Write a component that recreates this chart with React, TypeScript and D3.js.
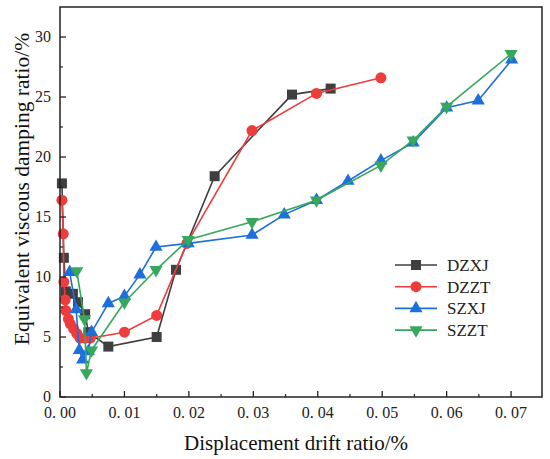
import * as d3 from "d3";
import { useEffect, useRef } from "react";

const dzxjX = [0.0003, 0.0006, 0.0009, 0.002, 0.0028, 0.0039, 0.0044, 0.0075, 0.015, 0.018, 0.024, 0.036, 0.042];
const dzxjY = [17.8, 11.6, 8.8, 8.6, 7.9, 6.9, 5.4, 4.2, 5.0, 10.6, 18.4, 25.2, 25.7];

const dzztX = [0.0003, 0.0005, 0.0006, 0.0008, 0.0009, 0.0013, 0.0016, 0.0021, 0.0026, 0.0031, 0.0039, 0.0047, 0.01, 0.015, 0.0197, 0.0298, 0.0398, 0.0498];
const dzztY = [16.4, 13.6, 9.6, 8.1, 7.2, 6.5, 6.1, 5.7, 5.3, 4.9, 4.9, 4.9, 5.4, 6.8, 12.8, 22.2, 25.3, 26.6];

const szxjX = [0.0015, 0.0025, 0.003, 0.0035, 0.0044, 0.0049, 0.0075, 0.01, 0.0124, 0.0149, 0.0199, 0.0298, 0.0348, 0.0398, 0.0447, 0.0498, 0.0548, 0.06, 0.0649, 0.0701];
const szxjY = [10.4, 7.3, 3.9, 3.1, 3.8, 5.4, 7.8, 8.4, 10.2, 12.5, 12.8, 13.5, 15.2, 16.4, 18.0, 19.7, 21.2, 24.1, 24.7, 28.1];

const szztX = [0.0026, 0.0038, 0.0041, 0.0049, 0.01, 0.0149, 0.0199, 0.0298, 0.0398, 0.0498, 0.0548, 0.06, 0.07];
const szztY = [10.5, 6.5, 2.0, 3.9, 7.9, 10.6, 13.1, 14.6, 16.4, 19.3, 21.4, 24.2, 28.6];

const seriesNames = ["DZXJ", "DZZT", "SZXJ", "SZZT"];
const seriesColors = ["#3f3f3f", "#ee3b3b", "#1d6fdc", "#36a85c"];
const seriesShapes = ["square", "circle", "triangle", "triangleDown"];

const xTicks = [0, 0.01, 0.02, 0.03, 0.04, 0.05, 0.06, 0.07];
const xTickLabels = ["0. 00", "0. 01", "0. 02", "0. 03", "0. 04", "0. 05", "0. 06", "0. 07"];
const yTicks = [0, 5, 10, 15, 20, 25, 30];

const W = 550;
const H = 459;
const margin = { top: 7, right: 8, bottom: 62, left: 60 };
const font = "'Liberation Serif', 'Times New Roman', serif";

function symbolFor(shape: string) {
  if (shape === "square") return d3.symbol(d3.symbolSquare, 100)();
  if (shape === "circle") return d3.symbol(d3.symbolCircle, 95)();
  return d3.symbol(d3.symbolTriangle, 75)();
}

export default function App() {
  const ref = useRef<SVGSVGElement>(null);

  useEffect(() => {
    document.body.style.margin = "0";
    if (!ref.current) return;
    const svg = d3.select(ref.current);
    svg.selectAll("*").remove();

    const x = d3.scaleLinear().domain([0, 0.0748]).range([margin.left, W - margin.right]);
    const y = d3.scaleLinear().domain([0, 32.5]).range([H - margin.bottom, margin.top]);

    const data = [
      { xs: dzxjX, ys: dzxjY },
      { xs: dzztX, ys: dzztY },
      { xs: szxjX, ys: szxjY },
      { xs: szztX, ys: szztY },
    ];

    const line = d3
      .line<[number, number]>()
      .x(d => x(d[0]))
      .y(d => y(d[1]));

    svg.append("rect").attr("width", W).attr("height", H).attr("fill", "#fff");

    const plot = svg.append("g");
    data.forEach((s, i) => {
      const pts = s.xs.map((v, j) => [v, s.ys[j]] as [number, number]);
      plot
        .append("path")
        .attr("d", line(pts)!)
        .attr("fill", "none")
        .attr("stroke", seriesColors[i])
        .attr("stroke-width", 1.6);
      const shape = seriesShapes[i];
      plot
        .selectAll(`.m${i}`)
        .data(pts)
        .join("path")
        .attr("d", symbolFor(shape))
        .attr("transform", d => `translate(${x(d[0])},${y(d[1])})${shape === "triangleDown" ? " rotate(180)" : ""}`)
        .attr("fill", seriesColors[i]);
    });

    // frame
    svg
      .append("rect")
      .attr("x", margin.left)
      .attr("y", margin.top)
      .attr("width", W - margin.left - margin.right)
      .attr("height", H - margin.top - margin.bottom)
      .attr("fill", "none")
      .attr("stroke", "#222")
      .attr("stroke-width", 1.5);

    // x ticks
    const y0 = y(0);
    const xMinor = d3.range(0.005, 0.0748, 0.01);
    svg
      .selectAll(".xt")
      .data(xTicks)
      .join("line")
      .attr("x1", d => x(d))
      .attr("x2", d => x(d))
      .attr("y1", y0)
      .attr("y2", y0 - 6)
      .attr("stroke", "#222")
      .attr("stroke-width", 1.3);
    svg
      .selectAll(".xm")
      .data(xMinor)
      .join("line")
      .attr("x1", d => x(d))
      .attr("x2", d => x(d))
      .attr("y1", y0)
      .attr("y2", y0 - 3)
      .attr("stroke", "#222")
      .attr("stroke-width", 1.2);
    svg
      .selectAll(".xl")
      .data(xTicks)
      .join("text")
      .attr("x", d => x(d))
      .attr("y", y0 + 21)
      .attr("text-anchor", "middle")
      .attr("font-family", font)
      .attr("font-size", 16)
      .attr("fill", "#222")
      .text((_, i) => xTickLabels[i]);

    // y ticks
    const x0 = x(0);
    const yMinor = d3.range(2.5, 32.5, 5);
    svg
      .selectAll(".yt")
      .data(yTicks)
      .join("line")
      .attr("x1", x0)
      .attr("x2", x0 + 6)
      .attr("y1", d => y(d))
      .attr("y2", d => y(d))
      .attr("stroke", "#222")
      .attr("stroke-width", 1.3);
    svg
      .selectAll(".ym")
      .data(yMinor)
      .join("line")
      .attr("x1", x0)
      .attr("x2", x0 + 3)
      .attr("y1", d => y(d))
      .attr("y2", d => y(d))
      .attr("stroke", "#222")
      .attr("stroke-width", 1.2);
    svg
      .selectAll(".yl")
      .data(yTicks)
      .join("text")
      .attr("x", x0 - 9)
      .attr("y", d => y(d) + 5)
      .attr("text-anchor", "end")
      .attr("font-family", font)
      .attr("font-size", 16)
      .attr("fill", "#222")
      .text(d => String(d));

    // axis titles
    svg
      .append("text")
      .attr("x", 296)
      .attr("y", 450)
      .attr("text-anchor", "middle")
      .attr("font-family", font)
      .attr("font-size", 21)
      .attr("fill", "#111")
      .text("Displacement drift ratio/%");
    svg
      .append("text")
      .attr("transform", "translate(29,189) rotate(-90)")
      .attr("text-anchor", "middle")
      .attr("font-family", font)
      .attr("font-size", 21.5)
      .attr("fill", "#111")
      .text("Equivalent viscous damping ratio/%");

    // legend
    const leg = svg.append("g").attr("transform", "translate(395,265)");
    seriesNames.forEach((name, i) => {
      const g = leg.append("g").attr("transform", `translate(0,${i * 21.7})`);
      g.append("line").attr("x1", 0).attr("x2", 42).attr("stroke", seriesColors[i]).attr("stroke-width", 1.6);
      g.append("path")
        .attr("d", symbolFor(seriesShapes[i]))
        .attr("transform", `translate(21,0)${seriesShapes[i] === "triangleDown" ? " rotate(180)" : ""}`)
        .attr("fill", seriesColors[i]);
      g.append("text")
        .attr("x", 52)
        .attr("y", 6)
        .attr("font-family", font)
        .attr("font-size", 17)
        .attr("fill", "#222")
        .text(name);
    });
  }, []);

  return <svg ref={ref} width={W} height={H} style={{ display: "block" }} />;
}
